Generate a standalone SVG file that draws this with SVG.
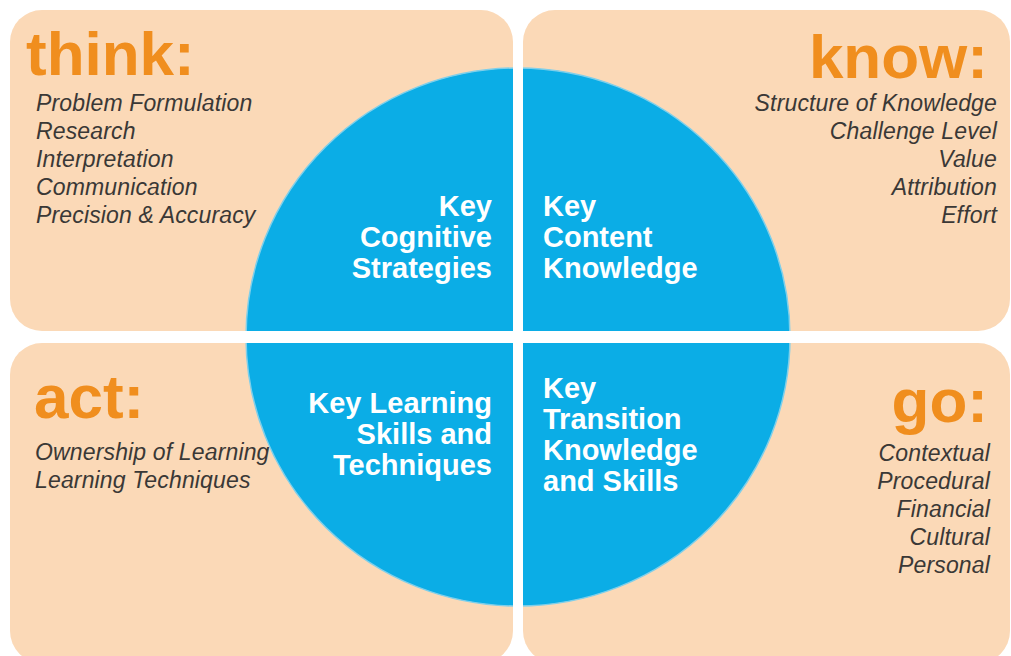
<svg xmlns="http://www.w3.org/2000/svg" width="1011" height="656" viewBox="0 0 1011 656">
<style>
.panel{fill:#FBD9B7}
.head{font-family:"Liberation Sans",Arial,sans-serif;font-weight:bold;font-size:62px;fill:#F08E1E}
.item{font-family:"Liberation Sans",Arial,sans-serif;font-style:italic;font-size:23px;letter-spacing:0.15px;fill:#3A3836}
.key{font-family:"Liberation Sans",Arial,sans-serif;font-weight:bold;font-size:29px;fill:#FFFFFF}
.gap{fill:#FFFFFF}
</style>
<rect width="1011" height="656" fill="#FFFFFF"/>
<g id="panels">
  <rect id="panel-think" class="panel" x="10" y="10" width="503" height="321" rx="32"/>
  <rect id="panel-know" class="panel" x="523" y="10" width="487" height="321" rx="32"/>
  <rect id="panel-act" class="panel" x="10" y="343" width="503" height="320" rx="32"/>
  <rect id="panel-go" class="panel" x="523" y="343" width="487" height="320" rx="32"/>
</g>
<g id="circle">
  <ellipse cx="518" cy="337" rx="272" ry="269" fill="#0BADE6" stroke="#7FCFEA" stroke-width="1.5"/>
  <rect class="gap" x="513" y="0" width="10" height="656"/>
  <rect class="gap" x="0" y="331" width="1011" height="12"/>
</g>
<g id="think">
  <text class="head" x="26" y="75">think:</text>
  <text class="item" x="36" y="110.5">Problem Formulation</text>
  <text class="item" x="36" y="138.5">Research</text>
  <text class="item" x="36" y="166.5">Interpretation</text>
  <text class="item" x="36" y="194.5">Communication</text>
  <text class="item" x="36" y="222.5">Precision &amp; Accuracy</text>
</g>
<g id="know" text-anchor="end">
  <text class="head" x="988" y="78">know:</text>
  <text class="item" x="997" y="110.5">Structure of Knowledge</text>
  <text class="item" x="997" y="138.5">Challenge Level</text>
  <text class="item" x="997" y="166.5">Value</text>
  <text class="item" x="997" y="194.5">Attribution</text>
  <text class="item" x="997" y="222.5">Effort</text>
</g>
<g id="act">
  <text class="head" x="34" y="418">act:</text>
  <text class="item" x="35" y="460">Ownership of Learning</text>
  <text class="item" x="35" y="488">Learning Techniques</text>
</g>
<g id="go" text-anchor="end">
  <text class="head" x="988" y="422">go:</text>
  <text class="item" x="990" y="461">Contextual</text>
  <text class="item" x="990" y="489">Procedural</text>
  <text class="item" x="990" y="517">Financial</text>
  <text class="item" x="990" y="545">Cultural</text>
  <text class="item" x="990" y="573">Personal</text>
</g>
<g id="key-cognitive" text-anchor="end">
  <text class="key" x="492" y="216">Key</text>
  <text class="key" x="492" y="247">Cognitive</text>
  <text class="key" x="492" y="278">Strategies</text>
</g>
<g id="key-content">
  <text class="key" x="543" y="216">Key</text>
  <text class="key" x="543" y="247">Content</text>
  <text class="key" x="543" y="278">Knowledge</text>
</g>
<g id="key-learning" text-anchor="end">
  <text class="key" x="492" y="413">Key Learning</text>
  <text class="key" x="492" y="444">Skills and</text>
  <text class="key" x="492" y="475">Techniques</text>
</g>
<g id="key-transition">
  <text class="key" x="543" y="398">Key</text>
  <text class="key" x="543" y="429">Transition</text>
  <text class="key" x="543" y="460">Knowledge</text>
  <text class="key" x="543" y="491">and Skills</text>
</g>
<g id="connectors"/>
</svg>
